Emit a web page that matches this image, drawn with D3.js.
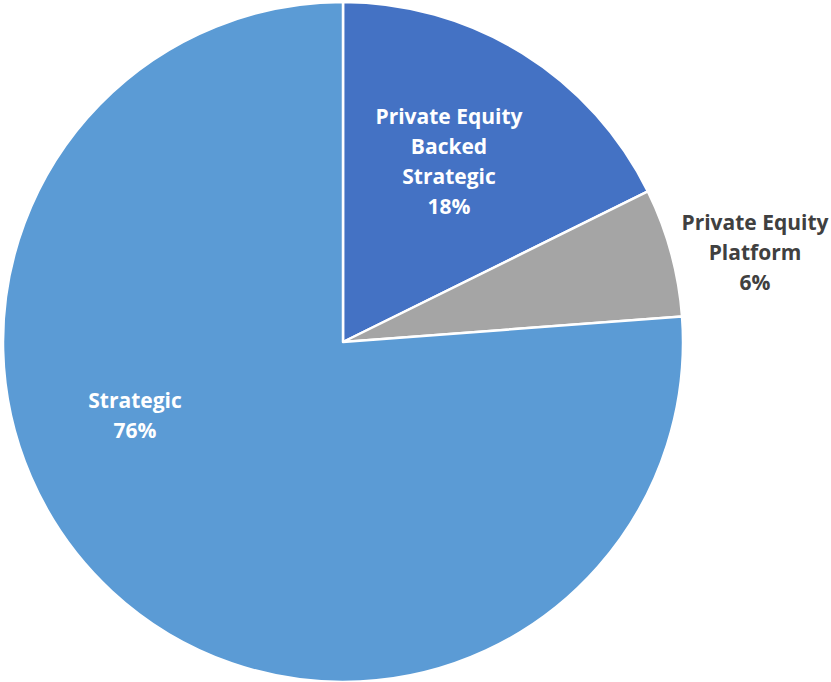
<!DOCTYPE html>
<html>
<head>
<meta charset="utf-8">
<script src="https://cdn.jsdelivr.net/npm/d3@7"></script>
<style>
  body { margin: 0; background: #fff; }
  svg { display: block; }
</style>
</head>
<body>
<div id="chart"></div>
<script>
// data
var categories = ["Private Equity Backed Strategic", "Private Equity Platform", "Strategic"];
var shares = [17.7, 6.1, 76.2];
var shareLabels = ["18%", "6%", "76%"];
var labelLines = [["Private Equity", "Backed", "Strategic"], ["Private Equity", "Platform"], ["Strategic"]];
var colors = ["#4472C4", "#A5A5A5", "#5B9BD5"];

var svgWidth = 831;
var svgHeight = 682;
var cx = 343, cy = 342, radius = 340;

var svg = d3.select("#chart")
  .append("svg")
  .attr("width", svgWidth)
  .attr("height", svgHeight);

var g = svg.append("g")
  .attr("transform", `translate(${cx}, ${cy})`);

var data = categories.map(function(c, i) {
  return { name: c, value: shares[i], label: shareLabels[i], lines: labelLines[i], color: colors[i] };
});

var pie = d3.pie().sort(null).value(d => d.value);
var arc = d3.arc().innerRadius(0).outerRadius(radius);

var arcs = pie(data);

g.selectAll("path")
  .data(arcs)
  .enter()
  .append("path")
  .attr("d", arc)
  .attr("fill", d => d.data.color)
  .attr("stroke", "#fff")
  .attr("stroke-width", 2.5)
  .attr("stroke-linejoin", "round");

// label centers relative to pie center
var labelPos = [
  { x: 106, y: -180, fill: "#fff" },
  { x: 412, y: -89, fill: "#404040" },
  { x: -208, y: 74, fill: "#fff" }
];
var lineHeight = 30;

arcs.forEach(function(a, i) {
  var lines = a.data.lines.concat([a.data.label]);
  var t = g.append("text")
    .attr("text-anchor", "middle")
    .attr("font-family", "'Open Sans', sans-serif")
    .attr("font-weight", "bold")
    .attr("font-size", "21px")
    .attr("fill", labelPos[i].fill);
  var y0 = labelPos[i].y - (lines.length - 1) * lineHeight / 2;
  lines.forEach(function(l, j) {
    t.append("tspan")
      .attr("x", labelPos[i].x)
      .attr("y", y0 + j * lineHeight)
      .attr("dy", "0.35em")
      .text(l);
  });
});
</script>
</body>
</html>
